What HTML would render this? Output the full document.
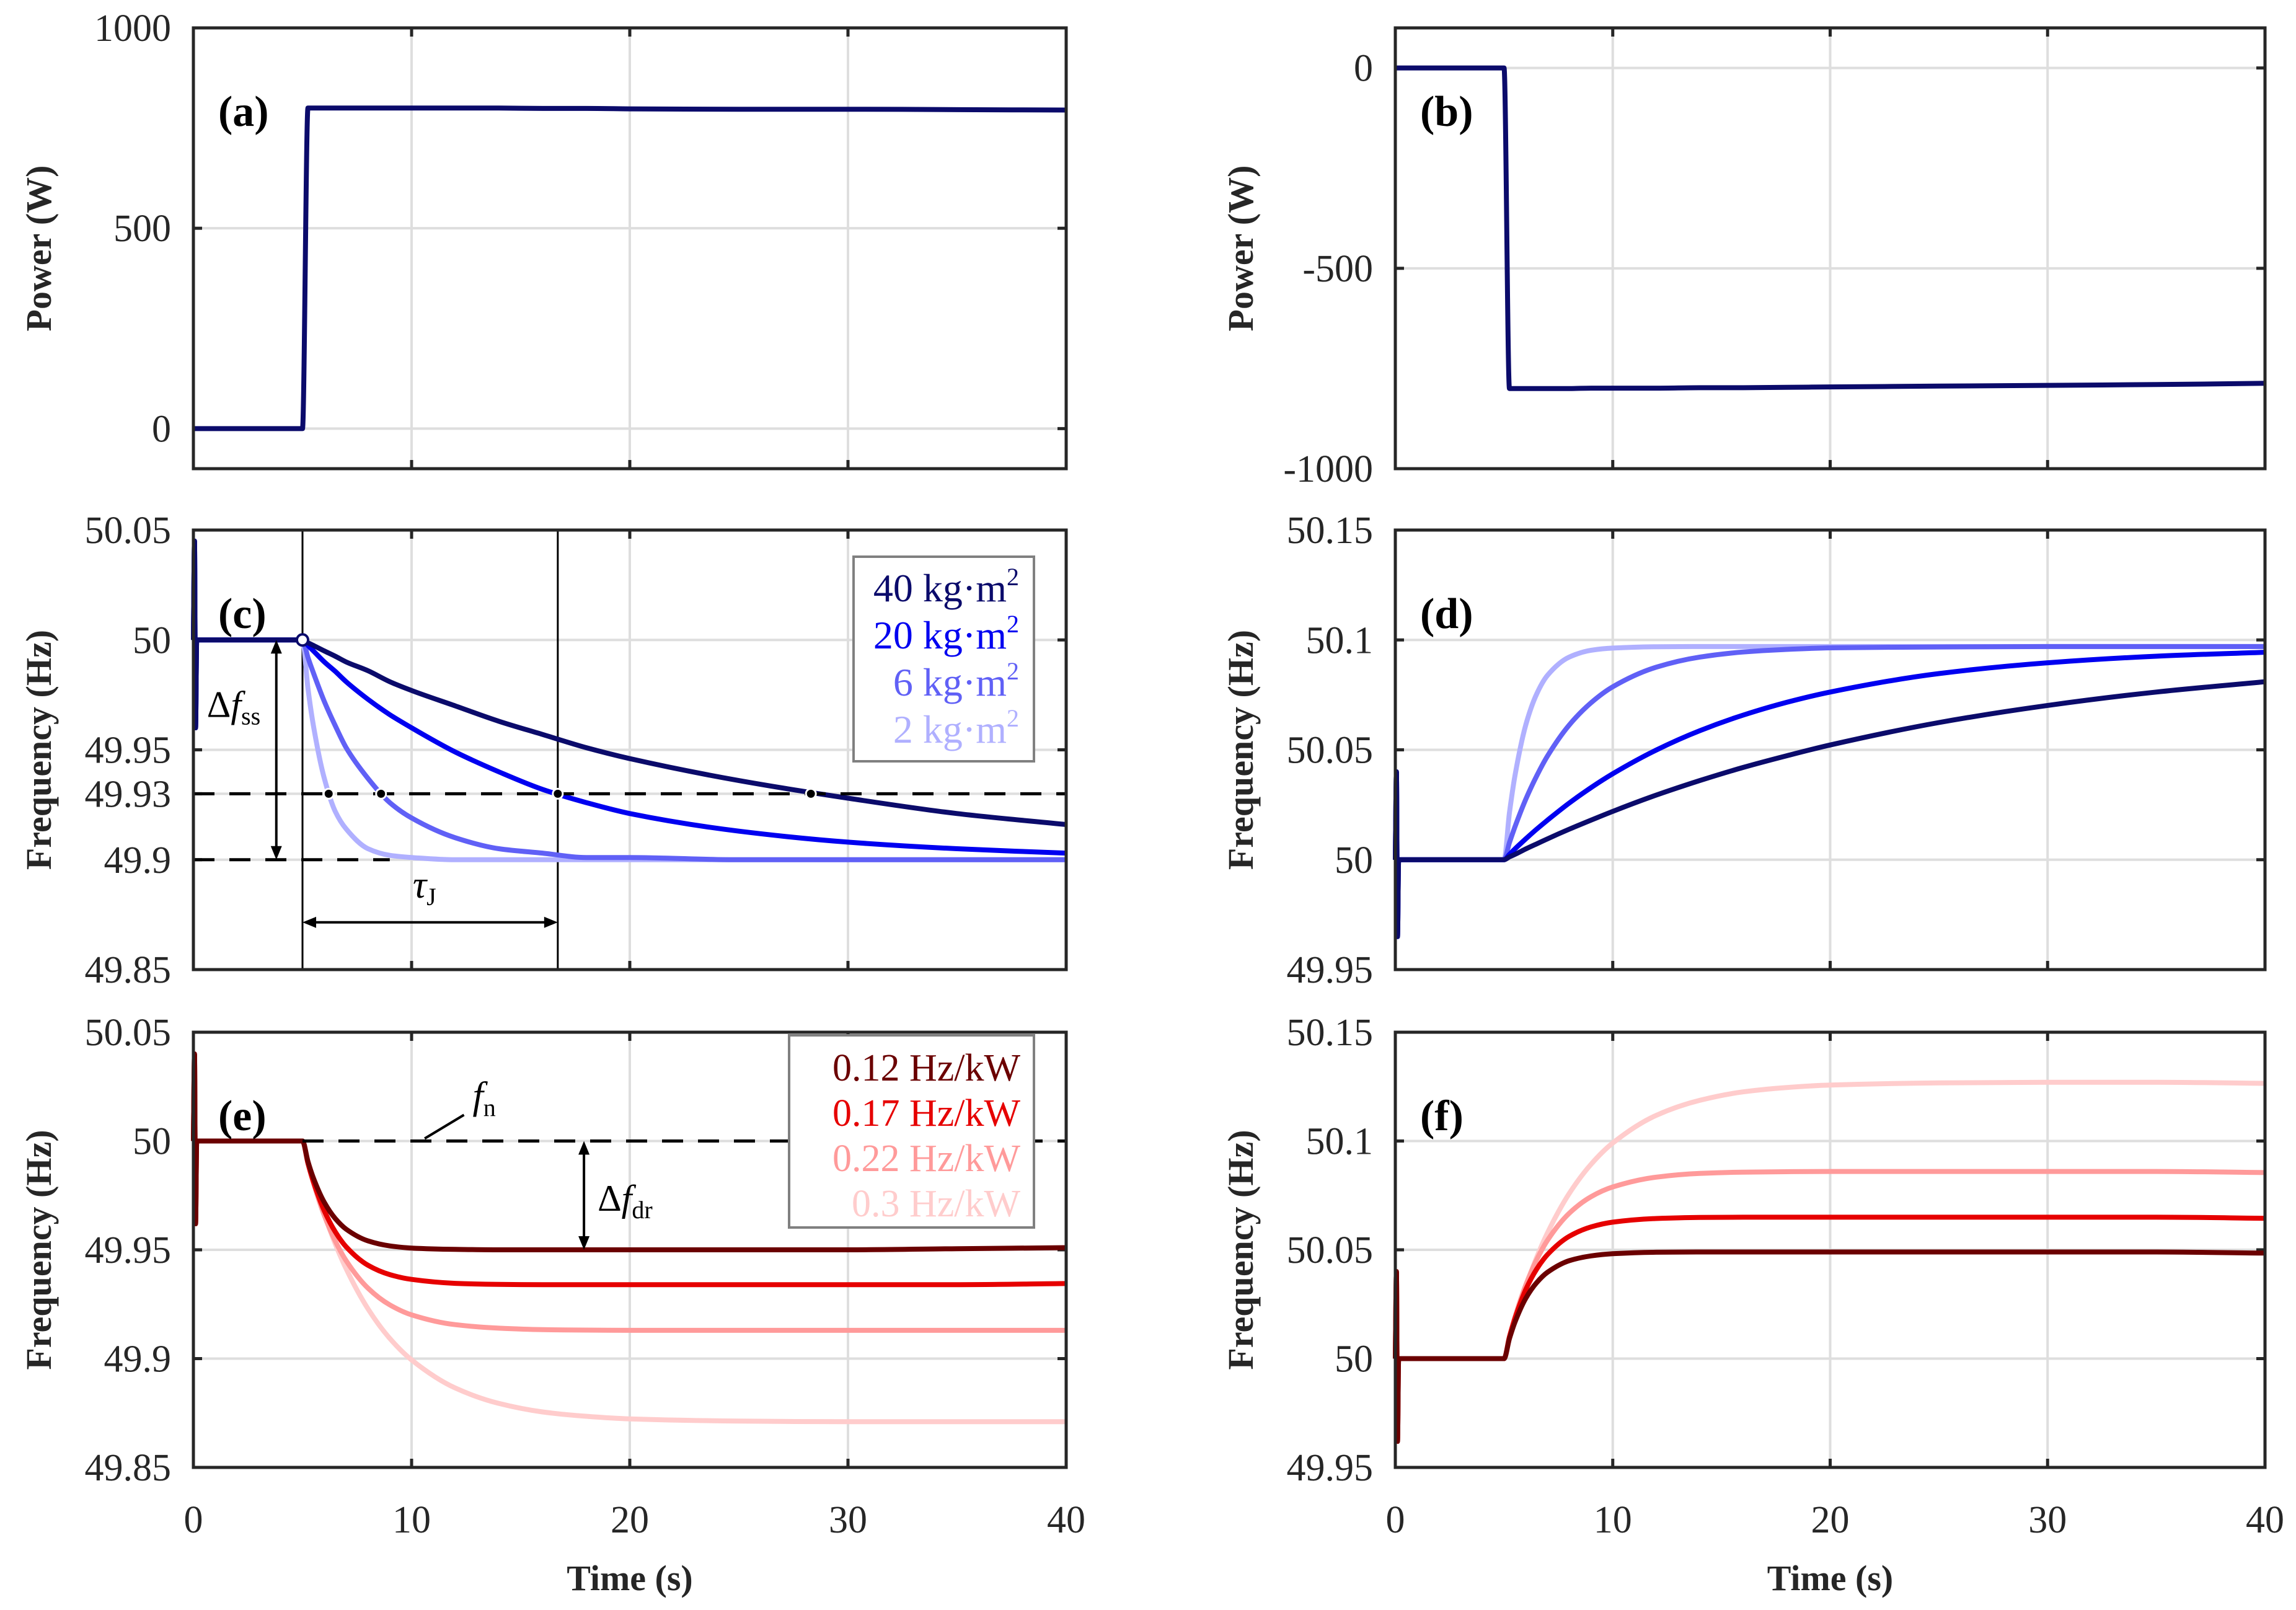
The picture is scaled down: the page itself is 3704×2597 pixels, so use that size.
<!DOCTYPE html>
<html><head><meta charset="utf-8"><style>
html,body{margin:0;padding:0;background:#fff}
svg{display:block}
text{font-family:"Liberation Serif",serif;fill:#262626}
</style></head><body>
<svg id="fig" width="3704" height="2597" viewBox="0 0 3704 2597" xmlns="http://www.w3.org/2000/svg"></svg>
<script>
const time=[0,0.05,0.1,0.15,0.25,5,5.25,5.5,6,6.5,7,8,9,10,12,14,16,18,20,25,30,35,40];
const powA=[0,0,0,0,0,0,800,800,800,800,800,800,800,800,800,800,799,799,798,797,797,796,795];
const powB=[0,0,0,0,0,0,-800,-800,-800,-800,-800,-800,-799,-799,-799,-798,-798,-797,-796,-794,-792,-790,-787];
const cJ40=[50,50.045,49.96,50,50,50,49.9987,49.9975,49.995,49.9926,49.990,49.986,49.981,49.977,49.970,49.963,49.957,49.951,49.946,49.936,49.928,49.921,49.916];
const cJ20=[50,50.045,49.96,50,50,50,49.9975,49.995,49.990,49.9857,49.981,49.973,49.966,49.960,49.949,49.940,49.932,49.926,49.921,49.913,49.908,49.905,49.903];
const cJ6=[50,50.045,49.96,50,50,50,49.992,49.985,49.972,49.961,49.951,49.937,49.926,49.919,49.910,49.905,49.903,49.901,49.901,49.900,49.900,49.900,49.900];
const cJ2=[50,50.045,49.96,50,50,50,49.978,49.961,49.937,49.922,49.914,49.905,49.902,49.901,49.900,49.900,49.900,49.900,49.900,49.900,49.900,49.900,49.900];
const dJ40=[50,50.04,49.965,50,50,50,50.0013,50.0024,50.0049,50.0072,50.0095,50.0139,50.0180,50.0220,50.0294,50.0360,50.0420,50.0473,50.0522,50.0624,50.0702,50.0763,50.0810];
const dJ20=[50,50.04,49.965,50,50,50,50.0024,50.0049,50.0095,50.0139,50.0180,50.0258,50.0328,50.0391,50.0499,50.0587,50.0658,50.0716,50.0763,50.0847,50.0896,50.0926,50.0944];
const dJ6=[50,50.04,49.965,50,50,50,50.0078,50.0149,50.0275,50.0381,50.0472,50.0613,50.0714,50.0787,50.0876,50.0922,50.0945,50.0957,50.0964,50.0968,50.097,50.097,50.097];
const dJ2=[50,50.04,49.965,50,50,50,50.0214,50.0381,50.0613,50.0754,50.0839,50.0922,50.0953,50.0963,50.0969,50.097,50.097,50.097,50.097,50.097,50.097,50.097,50.097];
const eD12=[50,50.04,49.962,50,50,50,49.9906,49.983,49.9718,49.9644,49.9595,49.9541,49.9518,49.9508,49.9502,49.950,49.950,49.950,49.950,49.950,49.950,49.9505,49.951];
const eD17=[50,50.04,49.962,50,50,50,49.9898,49.9813,49.9679,49.9583,49.9514,49.9429,49.9386,49.9364,49.9346,49.9341,49.934,49.934,49.934,49.934,49.934,49.934,49.9345];
const eD22=[50,50.04,49.962,50,50,50,49.9897,49.9808,49.9658,49.9541,49.945,49.9324,49.9247,49.9201,49.9156,49.914,49.9133,49.9131,49.913,49.913,49.913,49.913,49.913];
const eD30=[50,50.04,49.962,50,50,50,49.9906,49.9818,49.9663,49.9528,49.9413,49.9229,49.9093,49.8994,49.8865,49.8794,49.8755,49.8735,49.8723,49.8713,49.871,49.871,49.871];
const fD12=[50,50.04,49.962,50,50,50,50.0092,50.0167,50.0277,50.0349,50.0397,50.045,50.0472,50.0482,50.0489,50.049,50.049,50.049,50.049,50.049,50.049,50.049,50.0485];
const fD17=[50,50.04,49.962,50,50,50,50.010,50.0184,50.0317,50.0411,50.0478,50.0562,50.0605,50.0627,50.0644,50.0649,50.065,50.065,50.065,50.065,50.065,50.065,50.0645];
const fD22=[50,50.04,49.962,50,50,50,50.0101,50.019,50.0338,50.0454,50.0544,50.0668,50.0744,50.0789,50.0834,50.0851,50.0857,50.0859,50.086,50.086,50.086,50.086,50.0855];
const fD30=[50,50.04,49.962,50,50,50,50.0093,50.0179,50.0331,50.0465,50.0578,50.0759,50.0893,50.0991,50.1118,50.1187,50.1226,50.1246,50.1257,50.1267,50.127,50.127,50.1265];
const xTicks=[0,10,20,30,40];
const ticksA=[0,500,1000], ticksB=[-1000,-500,0];
const ticksC=[49.85,49.9,49.93,49.95,50,50.05], labelsC=["49.85","49.9","49.93","49.95","50","50.05"];
const ticksD=[49.95,50,50.05,50.1,50.15], labelsD=["49.95","50","50.05","50.1","50.15"];
const ticksE=[49.85,49.9,49.95,50,50.05], labelsE=["49.85","49.9","49.95","50","50.05"];
const legJ=["40","20","6","2"], legK=["0.12 Hz/kW","0.17 Hz/kW","0.22 Hz/kW","0.3 Hz/kW"];
const blues=["#0b0b6b","#0000f0","#6060f6","#b0b0ff"], reds=["#6b0000","#e60000","#ff9a9a","#ffcccc"];

const NS="http://www.w3.org/2000/svg", svg=document.getElementById('fig');
function mk(tag,at,parent){const e=document.createElementNS(NS,tag);for(const k in at)e.setAttribute(k,at[k]);(parent||svg).appendChild(e);return e;}
const COLS=[[312,1720],[2251,3654]], ROWS=[[45,756],[855,1564],[1665,2367]];
function axes(col,row,ymin,ymax,name){
  const [x0,x1]=COLS[col],[y0,y1]=ROWS[row];
  const g=mk('g',{});
  
  
  return {g,x0,x1,y0,y1,sx:t=>x0+(t-0)/40*(x1-x0),sy:v=>y1-(v-ymin)/(ymax-ymin)*(y1-y0)};
}
function grid(A,yt,yl,showX){
  xTicks.forEach(t=>{const x=A.sx(t);
    if(t>0&&t<40){const l=mk('line',{x1:x,x2:x,y1:A.y0,y2:A.y1,stroke:'#dedede','stroke-width':4},A.g);}
    mk('line',{x1:x,x2:x,y1:A.y1,y2:A.y1-14,stroke:'#262626','stroke-width':5},A.g);
    mk('line',{x1:x,x2:x,y1:A.y0,y2:A.y0+14,stroke:'#262626','stroke-width':5},A.g);
    if(showX){const tx=mk('text',{x:x,y:2472,'font-size':62,'text-anchor':'middle'},A.g);tx.textContent=t;}
  });
  yt.forEach((v,i)=>{const y=A.sy(v);
    if(y>A.y0+3&&y<A.y1-3){const l=mk('line',{x1:A.x0,x2:A.x1,y1:y,y2:y,stroke:'#dedede','stroke-width':4},A.g);}
    mk('line',{x1:A.x0,x2:A.x0+14,y1:y,y2:y,stroke:'#262626','stroke-width':5},A.g);
    mk('line',{x1:A.x1,x2:A.x1-14,y1:y,y2:y,stroke:'#262626','stroke-width':5},A.g);
    const tx=mk('text',{x:A.x0-36,y:y+21,'font-size':62,'text-anchor':'end'},A.g);tx.textContent=yl[i];
    
  });
}
function frame(A){const r=mk('rect',{x:A.x0,y:A.y0,width:A.x1-A.x0,height:A.y1-A.y0,fill:'none',stroke:'#262626','stroke-width':5},A.g);}
function smoothPath(xs,ys){
  const n=xs.length,d=[],m=new Array(n).fill(0);
  for(let i=0;i<n-1;i++)d.push((ys[i+1]-ys[i])/(xs[i+1]-xs[i]));
  for(let i=1;i<n-1;i++){ if(d[i-1]*d[i]<=0)m[i]=0; else {const w1=2*(xs[i+1]-xs[i])+(xs[i]-xs[i-1]),w2=(xs[i+1]-xs[i])+2*(xs[i]-xs[i-1]);m[i]=(w1+w2)/(w1/d[i-1]+w2/d[i]);}}
  m[0]=d[0];m[n-1]=d[n-2];
  let p='M'+xs[0].toFixed(1)+','+ys[0].toFixed(1);
  for(let i=0;i<n-1;i++){const h=(xs[i+1]-xs[i])/3;
    p+='C'+(xs[i]+h).toFixed(1)+','+(ys[i]+m[i]*h).toFixed(1)+' '+(xs[i+1]-h).toFixed(1)+','+(ys[i+1]-m[i+1]*h).toFixed(1)+' '+xs[i+1].toFixed(1)+','+ys[i+1].toFixed(1);}
  return p;
}
function line(A,vals,color,name){
  const xs=time.map(A.sx),ys=vals.map(A.sy);
  const p=mk('path',{d:smoothPath(xs,ys),fill:'none',stroke:color,'stroke-width':8,'stroke-linejoin':'round'},A.g);
  
  
}
function ytitle(A,txt){const cx=A.x0<1000?62:2001,cy=(A.y0+A.y1)/2;
  const t=mk('text',{x:cx,y:cy,'font-size':58,'font-weight':'bold','text-anchor':'middle',transform:`rotate(-90 ${cx} ${cy})`,dy:20},A.g);t.textContent=txt;
  }
function plabel(A,txt){const t=mk('text',{x:A.x0+40,y:A.y0+158,'font-size':70,'font-weight':'bold'},A.g);t.textContent=txt;t.style.fill='#000';
  }
function dline(A,x1,y1,x2,y2,extra){return mk('line',Object.assign({x1,y1,x2,y2,stroke:'#000','stroke-width':5},extra||{}),A.g);}
function arrowHead(A,x,y,dir){
  const s=22,w=9;let pts;
  if(dir==='up')pts=[[x,y],[x-w,y+s],[x+w,y+s]];
  if(dir==='down')pts=[[x,y],[x-w,y-s],[x+w,y-s]];
  if(dir==='left')pts=[[x,y],[x+s,y-w],[x+s,y+w]];
  if(dir==='right')pts=[[x,y],[x-s,y-w],[x-s,y+w]];
  mk('polygon',{points:pts.map(p=>p.join(',')).join(' '),fill:'#000'},A.g);
}

let A=axes(0,0,-100,1000,'panel-a');grid(A,ticksA,ticksA.map(String),false);line(A,powA,blues[0],'power-a-line');frame(A);ytitle(A,'Power (W)');plabel(A,'(a)');
A=axes(1,0,-1000,100,'panel-b');grid(A,ticksB,ticksB.map(String),false);line(A,powB,blues[0],'power-b-line');frame(A);ytitle(A,'Power (W)');plabel(A,'(b)');
A=axes(0,1,49.85,50.05,'panel-c');grid(A,ticksC,labelsC,false);
dline(A,A.sx(5),A.y0,A.sx(5),A.y1,{'stroke-width':3});dline(A,A.sx(16.7),A.y0,A.sx(16.7),A.y1,{'stroke-width':3});
[cJ2,cJ6,cJ20,cJ40].forEach((s,i)=>line(A,s,blues[3-i],'freq-c-J'+legJ[3-i]));
dline(A,A.x0,A.sy(49.93),A.x1,A.sy(49.93),{'stroke-dasharray':'34 24'});
dline(A,A.x0,A.sy(49.9),A.sx(9),A.sy(49.9),{'stroke-dasharray':'34 24'});
[6.2,8.6,16.7,28.3].forEach(t=>{const c=mk('circle',{cx:A.sx(t),cy:A.sy(49.93),r:8,fill:'#000',stroke:'#fff','stroke-width':3},A.g);});
mk('circle',{cx:A.sx(5),cy:A.sy(50),r:9,fill:'#fff',stroke:'#0b0b6b','stroke-width':4},A.g);
{const x=A.sx(3.8);dline(A,x,A.sy(50)+10,x,A.sy(49.9)-10,{'stroke-width':4});arrowHead(A,x,A.sy(50),'up');arrowHead(A,x,A.sy(49.9),'down');
 const t=mk('text',{x:x-112,y:A.sy(49.965),'font-size':60},A.g);t.style.fill='#000';t.innerHTML='Δ<tspan font-style="italic">f</tspan><tspan font-size="40" dy="12">ss</tspan>';
 const y=A.sy(49.8715),xa=A.sx(5),xb=A.sx(16.7);dline(A,xa+10,y,xb-10,y,{'stroke-width':4});arrowHead(A,xa,y,'left');arrowHead(A,xb,y,'right');
 const t2=mk('text',{x:(xa+xb)/2-28,y:y-40,'font-size':62},A.g);t2.style.fill='#000';t2.innerHTML='<tspan font-style="italic">τ</tspan><tspan font-size="40" dy="12">J</tspan>';}
frame(A);ytitle(A,'Frequency (Hz)');plabel(A,'(c)');
{const lg=mk('g',{},A.g);
 mk('rect',{x:1377,y:898,width:291,height:330,fill:'#fff',stroke:'#808080','stroke-width':4},lg);
 legJ.forEach((j,i)=>{const t=mk('text',{x:1644,y:970+i*76,'font-size':64,'text-anchor':'end'},lg);t.style.fill=blues[i];
  t.innerHTML=j+' kg·m<tspan font-size="40" dy="-26">2</tspan>';});}
A=axes(1,1,49.95,50.15,'panel-d');grid(A,ticksD,labelsD,false);
[dJ2,dJ6,dJ20,dJ40].forEach((s,i)=>line(A,s,blues[3-i],'freq-d-J'+legJ[3-i]));frame(A);ytitle(A,'Frequency (Hz)');plabel(A,'(d)');
A=axes(0,2,49.85,50.05,'panel-e');grid(A,ticksE,labelsE,true);
[eD30,eD22,eD17,eD12].forEach((s,i)=>line(A,s,reds[3-i],'freq-e-'+(3-i)));
dline(A,A.sx(5),A.sy(50),A.x1,A.sy(50),{'stroke-dasharray':'34 24'});
dline(A,A.sx(10.6),A.sy(50)-4,A.sx(12.4),A.sy(50.012),{'stroke-width':4});
{const t=mk('text',{x:A.sx(12.8),y:A.sy(50.015),'font-size':62},A.g);t.style.fill='#000';t.innerHTML='<tspan font-style="italic">f</tspan><tspan font-size="40" dy="12">n</tspan>';
 const x=A.sx(17.9);dline(A,x,A.sy(50)+10,x,A.sy(49.95)-10,{'stroke-width':4});arrowHead(A,x,A.sy(50),'up');arrowHead(A,x,A.sy(49.95),'down');
 const t2=mk('text',{x:x+22,y:A.sy(49.968),'font-size':60},A.g);t2.style.fill='#000';t2.innerHTML='Δ<tspan font-style="italic">f</tspan><tspan font-size="40" dy="12">dr</tspan>';}
frame(A);ytitle(A,'Frequency (Hz)');plabel(A,'(e)');
{const lg=mk('g',{},A.g);
 mk('rect',{x:1273,y:1670,width:395,height:310,fill:'#fff',stroke:'#808080','stroke-width':4},lg);
 legK.forEach((k,i)=>{const t=mk('text',{x:1646,y:1743+i*73,'font-size':62,'text-anchor':'end'},lg);t.style.fill=reds[i];t.textContent=k;});}
{const t=mk('text',{x:(COLS[0][0]+COLS[0][1])/2,y:2565,'font-size':58,'font-weight':'bold','text-anchor':'middle'});t.textContent='Time (s)';}
A=axes(1,2,49.95,50.15,'panel-f');grid(A,ticksD,labelsD,true);
[fD30,fD22,fD17,fD12].forEach((s,i)=>line(A,s,reds[3-i],'freq-f-'+(3-i)));frame(A);ytitle(A,'Frequency (Hz)');plabel(A,'(f)');
{const t=mk('text',{x:(COLS[1][0]+COLS[1][1])/2,y:2565,'font-size':58,'font-weight':'bold','text-anchor':'middle'});t.textContent='Time (s)';}
</script>
</body></html>
